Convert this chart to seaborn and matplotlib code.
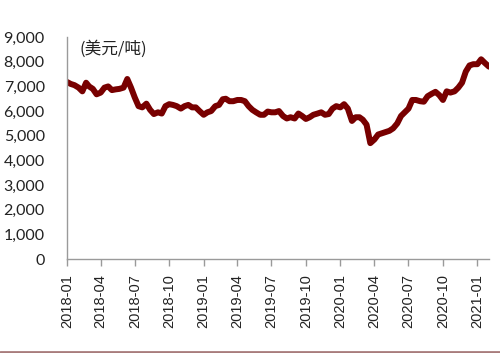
import matplotlib
matplotlib.use("Agg")
import matplotlib.pyplot as plt
import matplotlib.dates as mdates
from matplotlib.lines import Line2D
import seaborn as sns
import pandas as pd

# ---- data (USD/ton, read every ~10 days) ----
months = pd.date_range("2018-01-01", "2021-01-01", freq="MS")
days = [1, 11, 21]
values = [
    7180, 7100, 7050,   # 2018-01
    6950, 6800, 7150,   # 2018-02
    7000, 6900, 6680,   # 2018-03
    6750, 6950, 7000,   # 2018-04
    6850, 6880, 6900,   # 2018-05
    6950, 7300, 6950,   # 2018-06
    6550, 6200, 6150,   # 2018-07
    6300, 6050, 5880,   # 2018-08
    5950, 5900, 6200,   # 2018-09
    6280, 6250, 6200,   # 2018-10
    6100, 6200, 6250,   # 2018-11
    6150, 6150, 6000,   # 2018-12
    5850, 5950, 6000,   # 2019-01
    6200, 6250, 6480,   # 2019-02
    6500, 6400, 6400,   # 2019-03
    6450, 6450, 6400,   # 2019-04
    6200, 6050, 5950,   # 2019-05
    5850, 5850, 5980,   # 2019-06
    5950, 5950, 6000,   # 2019-07
    5800, 5700, 5750,   # 2019-08
    5700, 5900, 5800,   # 2019-09
    5680, 5750, 5850,   # 2019-10
    5900, 5950, 5850,   # 2019-11
    5880, 6100, 6200,   # 2019-12
    6150, 6280, 6100,   # 2020-01
    5600, 5750, 5750,   # 2020-02
    5650, 5450, 4700,   # 2020-03
    4850, 5050, 5100,   # 2020-04
    5150, 5200, 5300,   # 2020-05
    5500, 5800, 5950,   # 2020-06
    6100, 6450, 6450,   # 2020-07
    6400, 6380, 6600,   # 2020-08
    6700, 6780, 6650,   # 2020-09
    6450, 6800, 6750,   # 2020-10
    6800, 6950, 7150,   # 2020-11
    7600, 7850, 7900,   # 2020-12
    7900, 8100, 7950,   # 2021-01
]
end_date = "2021-02-01"
end_value = 7800

dates = [m + pd.Timedelta(days=d - 1) for m in months for d in days]
df = pd.DataFrame({"date": dates + [pd.Timestamp(end_date)],
                   "price": values + [end_value]})

yticks = list(range(0, 9001, 1000))
unit_label = "(美元/吨)"

# ---- plot ----
sns.set_theme(style="white")
plt.rcParams["font.family"] = ["Lato", "DejaVu Sans"]

fig = plt.figure(figsize=(5.0, 3.53), dpi=100)
ax = fig.add_axes([0.134, 0.266, 0.844, 0.629])

sns.lineplot(data=df, x="date", y="price", ax=ax, color="#780000",
             linewidth=4.3, solid_capstyle="round", solid_joinstyle="round")

ax.set_ylim(0, 9000)
ax.set_xlim(pd.Timestamp("2018-01-01"), pd.Timestamp("2021-02-01"))
ax.set_yticks(yticks)
ax.set_yticklabels([f"{v:,}" for v in yticks], fontsize=11.5, color="#222222")
ax.xaxis.set_major_locator(mdates.MonthLocator(bymonth=[1, 4, 7, 10]))
ax.xaxis.set_major_formatter(mdates.DateFormatter("%Y-%m"))
for lab in ax.get_xticklabels():
    lab.set_rotation(90)
    lab.set_fontfamily(["Liberation Sans", "DejaVu Sans"])
    lab.set_fontsize(10.5)
    lab.set_color("#222222")

ax.set_xlabel("")
ax.set_ylabel("")
for s in ["top", "right"]:
    ax.spines[s].set_visible(False)
for s in ["left", "bottom"]:
    ax.spines[s].set_color("#9a9a9a")
    ax.spines[s].set_linewidth(1.0)
ax.tick_params(axis="x", which="major", bottom=True, length=5, width=1,
               color="#9a9a9a", pad=6)
ax.tick_params(axis="y", left=False, length=0, pad=16)

ax.text(0.03, 0.985, unit_label, transform=ax.transAxes, ha="left", va="top",
        fontsize=12, color="#222222",
        family=["Noto Sans CJK SC", "DejaVu Sans"])

fig.add_artist(Line2D([0, 1], [0.003, 0.003], transform=fig.transFigure,
                      color="#a87c7c", linewidth=2))

fig.savefig("out.png", dpi=100)
